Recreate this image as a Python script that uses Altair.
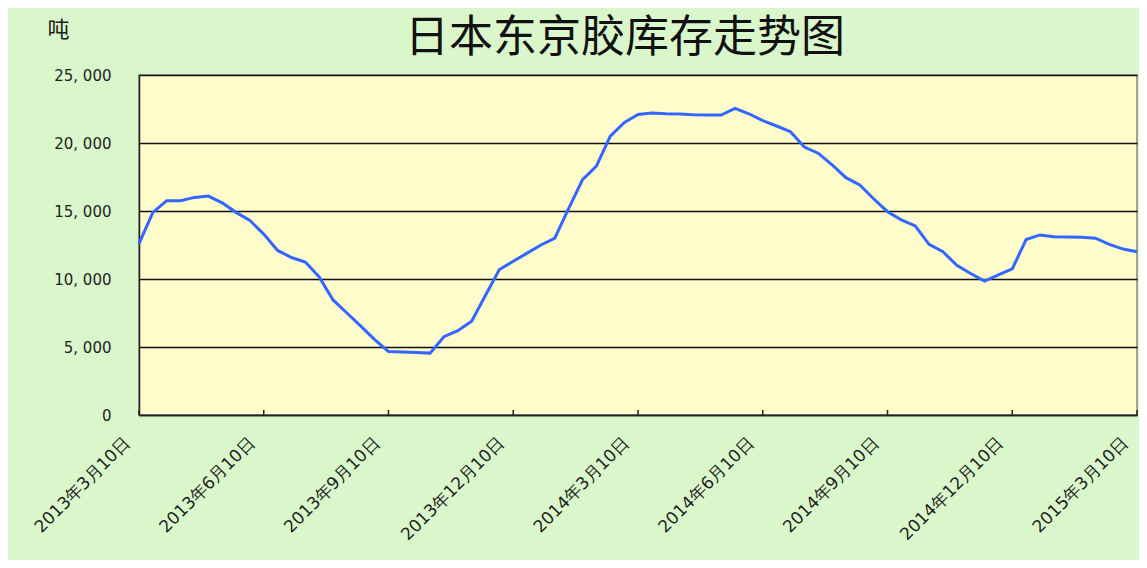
import calendar
import altair as alt
import pandas as pd

# 10-day stock readings (tonnes), 2013-03-10 .. 2015-03-10
stock = [
    12600, 14900, 15760, 15760, 16000, 16100, 15600, 14900, 14300,
    13300, 12100, 11580, 11250, 10150, 8460, 7500, 6530, 5540,
    4660, 4640, 4600, 4550, 5760, 6200, 6900, 8800, 10700,
    11300, 11900, 12500, 13000, 15200, 17300, 18300, 20500, 21500,
    22100, 22200, 22150, 22130, 22080, 22060, 22060, 22550, 22150,
    21650, 21250, 20830, 19700, 19250, 18400, 17450, 16920, 15900,
    14950, 14350, 13900, 12550, 12000, 11000, 10400, 9850, 10300,
    10750, 12900, 13240, 13100, 13080, 13070, 13000, 12550, 12200,
    12000,
]

years_months = [(2013, m) for m in range(3, 13)] + [(2014, m) for m in range(1, 13)] + [(2015, m) for m in range(1, 3)]
dates = []
for y, m in years_months:
    for d in (10, 20, calendar.monthrange(y, m)[1]):
        dates.append(f"{y}年{m}月{d}日")
dates.append("2015年3月10日")

tick_labels = dates[::9]
y_ticks = [0, 5000, 10000, 15000, 20000, 25000]
chart_title = ["日本东京胶库存走势图"]

df = pd.DataFrame({"date": dates, "stock": stock})
ticks_df = pd.DataFrame({"date": tick_labels})
title_df = pd.DataFrame({"t": chart_title})

x_scale = alt.Scale(type="point", domain=dates, padding=0)

line = alt.Chart(df).mark_line(color="#3366FF", strokeWidth=3).encode(
    x=alt.X(
        "date:O",
        scale=x_scale,
        sort=None,
        axis=alt.Axis(
            values=tick_labels,
            title=None,
            labelAngle=-45,
            labelAlign="right",
            labelBaseline="middle",
            labelPadding=25,
            labelOffset=-12,
            labelFont="DejaVu Sans",
            labelFontSize=17,
            labelColor="#222222",
            ticks=False,
            domainColor="#222222",
            domainWidth=1.5,
            grid=False,
        ),
    ),
    y=alt.Y(
        "stock:Q",
        scale=alt.Scale(domain=[0, 25000], nice=False),
        axis=alt.Axis(
            values=y_ticks,
            title="吨",
            titleAngle=0,
            titleX=-81,
            titleY=-46,
            titleAlign="center",
            titleBaseline="middle",
            titleFont="Noto Sans CJK SC",
            titleFontSize=22,
            titleFontWeight="normal",
            titleColor="#222222",
            labelExpr="replace(format(datum.value, ','), ',', ', ')",
            labelFont="DejaVu Sans",
            labelFontSize=15,
            labelColor="#222222",
            labelPadding=28,
            ticks=False,
            domainColor="#222222",
            domainWidth=1.5,
            grid=True,
            gridColor="#111111",
            gridWidth=1.3,
        ),
    ),
)

tick_rules = alt.Chart(ticks_df).mark_rule(color="#222222", strokeWidth=1.5).encode(
    x=alt.X("date:O", scale=x_scale, sort=None),
    y=alt.value(340),
    y2=alt.value(335),
)

title_text = alt.Chart(title_df).mark_text(
    font="Noto Sans CJK SC",
    fontSize=44,
    color="#111111",
    align="center",
    baseline="middle",
).encode(text="t:N", x=alt.value(486), y=alt.value(-36))

chart = (
    alt.layer(line, tick_rules, title_text)
    .properties(
        width=998,
        height=340,
        padding={"left": 131, "top": 67, "right": 2, "bottom": 145},
        autosize=alt.AutoSizeParams(type="none"),
        background="#DAF7CC",
    )
    .configure_view(fill="#FFFCCC", stroke="#888888", strokeWidth=1.5)
)

chart.save("out.html", embed_options={"renderer": "svg", "actions": False})
